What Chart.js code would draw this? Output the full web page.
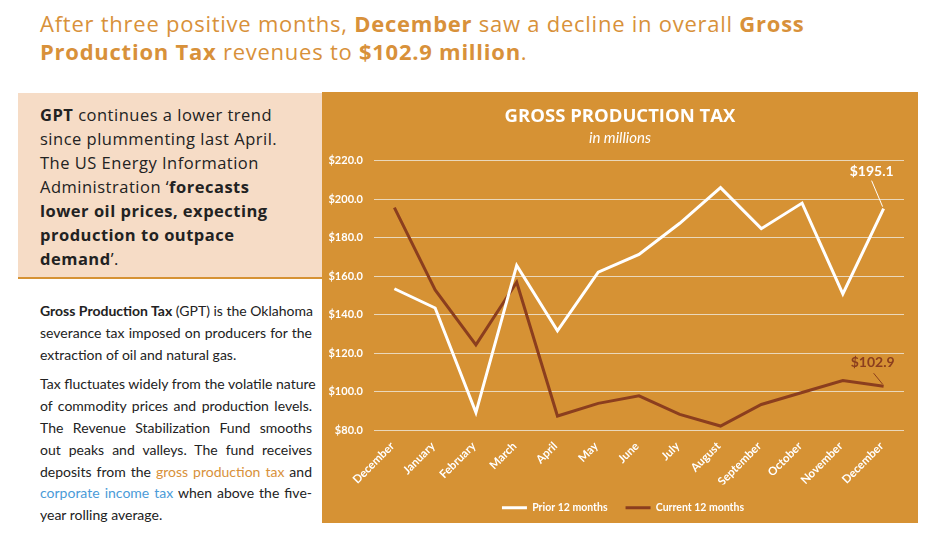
<!DOCTYPE html>
<html>
<head>
<meta charset="utf-8">
<script src="https://cdn.jsdelivr.net/npm/chart.js@4/dist/chart.umd.min.js"></script>
<style>
	body { margin: 0; width: 936px; height: 546px; background: #fff; position: relative; overflow: hidden; }
	.headline { position: absolute; left: 40px; top: 9px; font: 400 22px/28px 'Open Sans', sans-serif; letter-spacing: 0.75px; color: #d8913a; white-space: nowrap; }
	.headline b { font-weight: 700; }
	.callout { position: absolute; left: 18px; top: 93px; width: 304px; height: 186px; background: #f6dcc6; border-bottom: 2px solid #d69234; box-sizing: border-box; padding: 10px 0 0 22px; font: 400 16.5px/24px 'Open Sans', sans-serif; letter-spacing: 0.5px; color: #222; white-space: nowrap; }
	.callout b { font-weight: 700; }
	.notes { position: absolute; left: 40px; top: 300px; width: 272px; font: 400 14px/21.8px 'Lato', sans-serif; color: #222; }
	.notes .ln { text-align: justify; text-align-last: justify; white-space: nowrap; }
	.notes .end { text-align-last: left; }
	.notes .gap { height: 8px; }
	.notes .or { color: #d8913a; }
	.notes .bl { color: #4a9bd8; }
	.panel { position: absolute; left: 322px; top: 92px; width: 596px; height: 431px; background: #d69234; }
</style>
</head>
<body>
	<div class="headline">After three positive months, <b>December</b> saw a decline in overall <b>Gross</b><br><b>Production Tax</b> revenues to <b>$102.9 million</b>.</div>

	<div class="callout">
		<b>GPT</b> continues a lower trend<br>
		since plummenting last April.<br>
		The US Energy Information<br>
		Administration ‘<b>forecasts</b><br>
		<b>lower oil prices, expecting</b><br>
		<b>production to outpace</b><br>
		<b>demand</b>’.
	</div>

	<div class="notes">
		<div class="ln"><b>Gross Production Tax</b> (GPT) is the Oklahoma</div>
		<div class="ln">severance tax imposed on producers for the</div>
		<div class="ln end">extraction of oil and natural gas.</div>
		<div class="gap"></div>
		<div class="ln">Tax fluctuates widely from the volatile nature</div>
		<div class="ln">of commodity prices and production levels.</div>
		<div class="ln">The Revenue Stabilization Fund smooths</div>
		<div class="ln">out peaks and valleys. The fund receives</div>
		<div class="ln">deposits from the <span class="or">gross production tax</span> and</div>
		<div class="ln"><span class="bl">corporate income tax</span> when above the five-</div>
		<div class="ln end">year rolling average.</div>
	</div>

	<div class="panel"><canvas id="gpt"></canvas></div>

<script>
	const categories = ['December', 'January', 'February', 'March', 'April', 'May', 'June', 'July', 'August', 'September', 'October', 'November', 'December'];
	const priorValues = [153.5, 143.5, 89.2, 165.6, 131.7, 162.1, 171.3, 187.5, 206.0, 184.7, 198.0, 150.8, 195.1];
	const currentValues = [195.6, 152.9, 124.4, 156.9, 87.4, 94.0, 97.9, 88.3, 82.2, 93.4, 99.6, 105.8, 102.9];
	const seriesNames = ['Prior 12 months', 'Current 12 months'];
	const yMin = 80;
	const yMax = 220;
	const yStep = 20;

	const white = '#ffffff';
	const brown = '#8b3e1e';

	// label + leader line at the last point of each line
	const endLabels = {
		id: 'endLabels',
		afterDatasetsDraw(chart) {
			const ctx = chart.ctx;
			chart.data.datasets.forEach((ds, i) => {
				const meta = chart.getDatasetMeta(i);
				const pt = meta.data[meta.data.length - 1];
				const v = ds.data[ds.data.length - 1];
				const off = ds.endLabel;
				ctx.save();
				ctx.strokeStyle = ds.borderColor;
				ctx.lineWidth = 1;
				ctx.beginPath();
				ctx.moveTo(pt.x + off.lx, pt.y + off.ly);
				ctx.lineTo(pt.x - 1, pt.y - 2);
				ctx.stroke();
				ctx.fillStyle = ds.borderColor;
				ctx.font = 'bold 14px Lato';
				ctx.textAlign = 'center';
				ctx.textBaseline = 'middle';
				ctx.fillText('$' + v.toFixed(1), pt.x + off.dx, pt.y + off.dy);
				ctx.restore();
			});
		}
	};

	// title and legend centred on the whole panel, not on the padded box
	const boxShift = {
		id: 'boxShift',
		afterLayout(chart) {
			chart.boxes.forEach((b) => {
				let dx = 0;
				if (b === chart.legend) dx = 10;
				else if (b.position === 'top' && b.options && b.options.text) dx = 7;
				b.left += dx;
				b.right += dx;
			});
		}
	};

	new Chart(document.getElementById('gpt'), {
		type: 'line',
		data: {
			labels: categories,
			datasets: [
				{
					label: seriesNames[0],
					data: priorValues,
					borderColor: white,
					backgroundColor: white,
					borderWidth: 3,
					pointRadius: 0,
					tension: 0,
					endLabel: { dx: -12, dy: -37, lx: -12, ly: -28 }
				},
				{
					label: seriesNames[1],
					data: currentValues,
					borderColor: brown,
					backgroundColor: brown,
					borderWidth: 3,
					pointRadius: 0,
					tension: 0,
					endLabel: { dx: -11, dy: -24, lx: -10, ly: -13 }
				}
			]
		},
		options: {
			responsive: true,
			maintainAspectRatio: false,
			animation: false,
			layout: { padding: { top: 0, right: 14, bottom: 0, left: 0 } },
			plugins: {
				title: {
					display: true,
					text: 'GROSS PRODUCTION TAX',
					color: white,
					font: { family: 'Open Sans', size: 18.5, weight: 'bold' },
					padding: { top: 13.9, bottom: 0.9 }
				},
				subtitle: {
					display: true,
					text: 'in millions',
					color: white,
					font: { family: 'Lato', size: 15, style: 'italic' },
					padding: { top: 0, bottom: 13.7 }
				},
				legend: {
					position: 'bottom',
					maxHeight: 40,
					labels: {
						color: white,
						font: { family: 'Lato', size: 10.5, weight: 'bold' },
						usePointStyle: true,
						pointStyle: 'line',
						pointStyleWidth: 25,
						boxHeight: 10,
						padding: 18
					}
				},
				tooltip: { enabled: false }
			},
			scales: {
				x: {
					offset: true,
					grid: { display: false, drawTicks: false },
					border: { display: false },
					afterFit: (scale) => { scale.height = 54.2; },
					ticks: {
						color: white,
						font: { family: 'Lato', size: 11.5, weight: 'bold' },
						minRotation: 45,
						maxRotation: 45,
						autoSkip: false,
						padding: 9,
						labelOffset: -2
					}
				},
				y: {
					min: yMin,
					max: yMax,
					grid: { color: '#ead8bb', lineWidth: 1, drawTicks: false },
					border: { display: false },
					afterFit: (scale) => { scale.width = 52; },
					ticks: {
						stepSize: yStep,
						color: white,
						font: { family: 'Lato', size: 11, weight: 'bold' },
						padding: 11,
						callback: (v) => '$' + Number(v).toFixed(1)
					}
				}
			}
		},
		plugins: [endLabels, boxShift]
	});
</script>
</body>
</html>
